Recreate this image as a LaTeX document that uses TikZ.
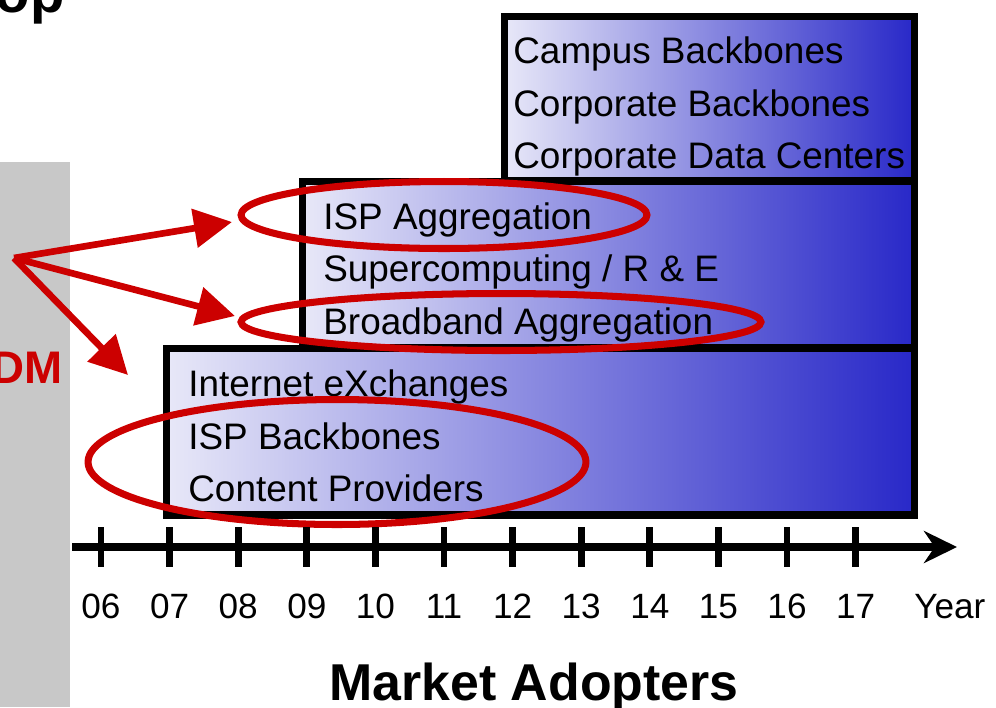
\documentclass[tikz,border=0pt]{standalone}
\usepackage{fontspec}
\setmainfont{Liberation Sans}
\usetikzlibrary{arrows.meta,shapes.geometric}

\definecolor{ringred}{RGB}{204,0,0}
\definecolor{boxlight}{RGB}{232,232,248}
\definecolor{boxblue}{RGB}{40,40,200}
\definecolor{bargray}{RGB}{200,200,200}

\begin{document}
\begin{tikzpicture}[x=0.02cm, y=-0.02cm]
            \useasboundingbox (0,0) rectangle (996,707);
            \clip (0,0) rectangle (996,707);

            {
                \tikzset{band/.style = {draw, line width=4pt, left color=boxlight, right color=boxblue, inner sep=0pt},
                         item/.style = {anchor=base west, inner sep=0pt, font=\fontsize{21}{21}\selectfont},
                         ring/.style = {shape=ellipse, draw=ringred, line width=4pt, inner sep=0pt},
                         pointer/.style = {draw=ringred, line width=3.8pt, -{Triangle[length=0.76cm, width=0.76cm]}},
                         yearlabel/.style = {anchor=base, inner sep=0pt, font=\fontsize{20}{20}\selectfont}}

                \fill[bargray] (0,162) rectangle (70,707);

                \node[anchor=base east, inner sep=0pt, font=\bfseries\fontsize{32}{32}\selectfont] (head) at (65,12) {op};
                \node[anchor=base east, inner sep=0pt, text=ringred, font=\bfseries\fontsize{26}{26}\selectfont] (wdm) at (63,383) {DM};

                \node[band, minimum width=8.22cm, minimum height=3.3cm] (campus) at (709.5,98.5) {};
                \node[band, minimum width=12.26cm, minimum height=3.34cm] (isp) at (608.5,264.5) {};
                \node[band, minimum width=14.98cm, minimum height=3.34cm] (core) at (540.5,431.5) {};

                \node[item] (1) at (513,63) {Campus Backbones};
                \node[item] (2) at (513,116) {Corporate Backbones};
                \node[item] (3) at (513,168) {Corporate Data Centers};
                \node[item] (4) at (323,229) {ISP Aggregation};
                \node[item] (5) at (323,281) {Supercomputing / R \& E};
                \node[item] (6) at (323,334) {Broadband Aggregation};
                \node[item] (7) at (188,396) {Internet eXchanges};
                \node[item] (8) at (188,449) {ISP Backbones};
                \node[item] (9) at (188,501) {Content Providers};

                \node[ring, minimum width=8.12cm, minimum height=1.34cm] (ringa) at (444,215) {};
                \node[ring, minimum width=10.4cm, minimum height=1.14cm] (ringb) at (501,322) {};
                \node[ring, minimum width=9.96cm, minimum height=2.5cm] (ringc) at (337,462) {};

                \coordinate (src) at (14,258);
                \coordinate (tipa) at (232,222);
                \coordinate (tipb) at (235,316);
                \coordinate (tipc) at (128,375);

                \draw[pointer] (src) -- (tipa);
                \draw[pointer] (src) -- (tipb);
                \draw[pointer] (src) -- (tipc);

                % time axis
                \coordinate (axl) at (72,547);
                \coordinate (axr) at (957,547);
                \draw[line width=5pt, -{Stealth[length=0.66cm, width=0.64cm]}] (axl) -- (axr);
                \foreach \yr [count=\i from 0] in {06,07,08,09,10,11,12,13,14,15,16,17}
                {
                    \draw[line width=3.8pt] ({101+68.6*\i},527) -- ({101+68.6*\i},567);
                    \node[yearlabel] (y\yr) at ({101+68.6*\i},618) {\yr};
                }
                \node[anchor=base west, inner sep=0pt, font=\fontsize{20}{20}\selectfont] (year) at (914,618) {Year};

                \node[anchor=base, inner sep=0pt, font=\bfseries\fontsize{29.5}{30}\selectfont] (adopt) at (534,700) {Market Adopters};
            }

\end{tikzpicture}
\end{document}
